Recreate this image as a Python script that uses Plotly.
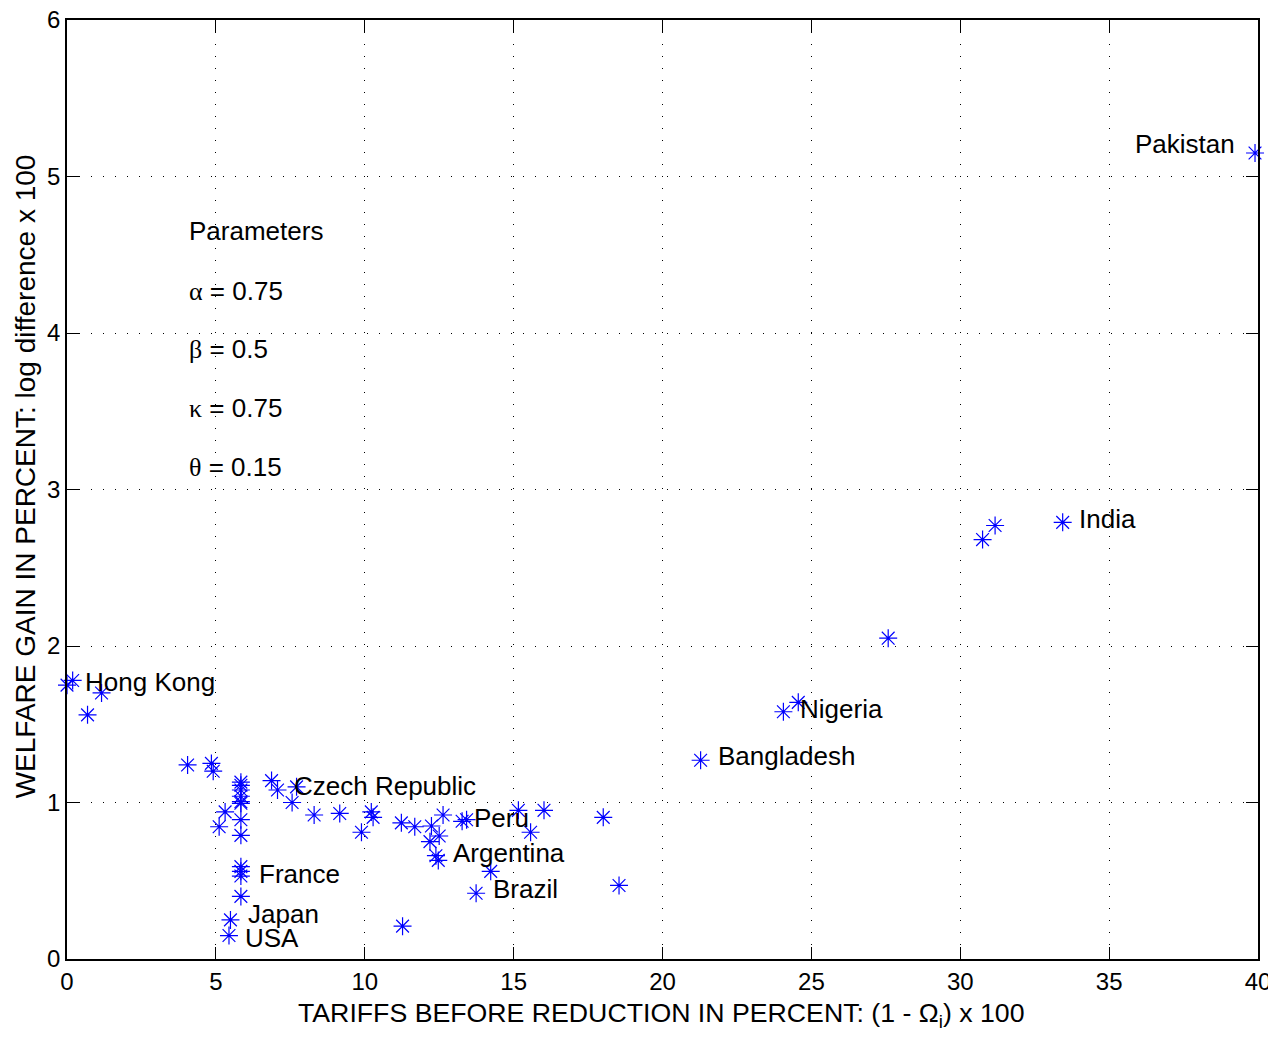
import plotly.graph_objects as go

# Data: tariffs before reduction (%) and welfare gain (%)
tariffs = [0.0, 0.19, 1.16, 0.69, 4.05, 4.85, 4.91,
           5.84, 5.84, 5.84, 5.84, 5.84, 5.84, 5.84, 5.84, 5.84, 5.84, 5.84, 5.84,
           5.31, 5.11, 5.49, 5.44,
           6.87, 7.07, 7.71, 7.56, 8.30, 9.16, 9.89, 10.22, 10.28,
           11.23, 11.68, 12.24, 12.63, 12.50, 12.19, 12.39, 12.47,
           13.27, 13.42, 15.16, 15.57, 16.02, 18.01, 18.54, 14.23, 13.74, 11.27,
           21.28, 24.06, 24.56, 27.58, 30.75, 31.17, 33.44, 39.9]
gains = [1.75, 1.78, 1.70, 1.56, 1.24, 1.25, 1.20,
         1.13, 1.11, 1.08, 1.04, 1.005, 0.995, 0.89, 0.79, 0.59, 0.56, 0.53, 0.40,
         0.94, 0.845, 0.25, 0.15,
         1.14, 1.08, 1.10, 1.00, 0.92, 0.93, 0.81, 0.94, 0.905,
         0.87, 0.845, 0.85, 0.92, 0.786, 0.75, 0.66, 0.63,
         0.88, 0.89, 0.95, 0.81, 0.95, 0.905, 0.47, 0.56, 0.42, 0.21,
         1.27, 1.58, 1.64, 2.05, 2.68, 2.77, 2.79, 5.15]

label_names = ["Hong Kong", "Czech Republic", "Peru", "Argentina", "France", "Brazil",
               "Japan", "USA", "Bangladesh", "Nigeria", "India"]
label_x = [0.54, 7.56, 13.6, 12.9, 6.38, 14.24, 6.01, 5.91, 21.8, 24.55, 33.92]
label_y = [1.772, 1.105, 0.90, 0.68, 0.54, 0.45, 0.29, 0.134, 1.30, 1.60, 2.81]

param_lines = ["Parameters", "α = 0.75", "β = 0.5", "κ = 0.75", "θ = 0.15"]
param_y = [4.652, 4.27, 3.90, 3.52, 3.146]

x_ticks = [0, 5, 10, 15, 20, 25, 30, 35, 40]
y_ticks = [0, 1, 2, 3, 4, 5, 6]

x_title = "TARIFFS BEFORE REDUCTION IN PERCENT: (1 - Ω<sub>i</sub>) x 100"
y_title = "WELFARE GAIN IN PERCENT: log difference x 100"

FONT = "Liberation Sans, Arial, sans-serif"
LABEL_SIZE = 26

fig = go.Figure()
fig.add_trace(go.Scatter(
    x=tariffs, y=gains, mode="markers",
    marker=dict(symbol="asterisk-open", size=15, color="#0000ff",
                line=dict(color="#0000ff", width=1.2)),
    showlegend=False, cliponaxis=False,
))

annotations = []
for n, x, y in zip(label_names, label_x, label_y):
    annotations.append(dict(x=x, y=y, xref="x", yref="y", text=n, showarrow=False,
                            xanchor="left", yanchor="middle",
                            font=dict(size=LABEL_SIZE, color="black", family=FONT)))
annotations.append(dict(x=39.29, y=5.21, xref="x", yref="y", text="Pakistan",
                        showarrow=False, xanchor="right", yanchor="middle",
                        font=dict(size=LABEL_SIZE, color="black", family=FONT)))

def fmt_param(s):
    if s[0] in "αβκθ":
        return "<span style='font-family:Liberation Serif'>" + s[0] + "</span>" + s[1:]
    return s

for s, y in zip(param_lines, param_y):
    annotations.append(dict(x=4.03, y=y, xref="x", yref="y", text=fmt_param(s),
                            showarrow=False, xanchor="left", yanchor="middle",
                            font=dict(size=LABEL_SIZE, color="black", family=FONT)))

# axis titles
annotations.append(dict(x=0.4985, y=-0.0596, xref="paper", yref="paper", text=x_title,
                        showarrow=False, xanchor="center", yanchor="middle",
                        font=dict(size=26.7, color="black", family=FONT)))
annotations.append(dict(x=-0.0353, y=0.514, xref="paper", yref="paper", text=y_title,
                        showarrow=False, xanchor="center", yanchor="middle", textangle=-90,
                        font=dict(size=28, color="black", family=FONT)))

axis_common = dict(
    showline=True, linecolor="black", linewidth=1.5, mirror="ticks",
    ticks="inside", ticklen=12, tickcolor="black", tickwidth=1,
    showgrid=True, gridcolor="black", gridwidth=1, griddash="1px,11px",
    zeroline=False, automargin=False, ticklabeloverflow="allow",
    tickfont=dict(size=24, color="black", family=FONT),
)

fig.update_xaxes(range=[0, 40], tickvals=x_ticks, ticktext=[str(t) for t in x_ticks],
                 **axis_common)
fig.update_yaxes(range=[0, 6], tickvals=y_ticks, ticktext=[str(t) for t in y_ticks],
                 **axis_common)

# page has an 8px body margin, so the figure is sized/offset to compensate
fig.update_layout(
    width=1268, height=1030,
    margin=dict(l=59, r=18, t=12, b=79),
    paper_bgcolor="white", plot_bgcolor="white",
    annotations=annotations,
    font=dict(family=FONT, color="black"),
)

fig.write_html("out.html")
